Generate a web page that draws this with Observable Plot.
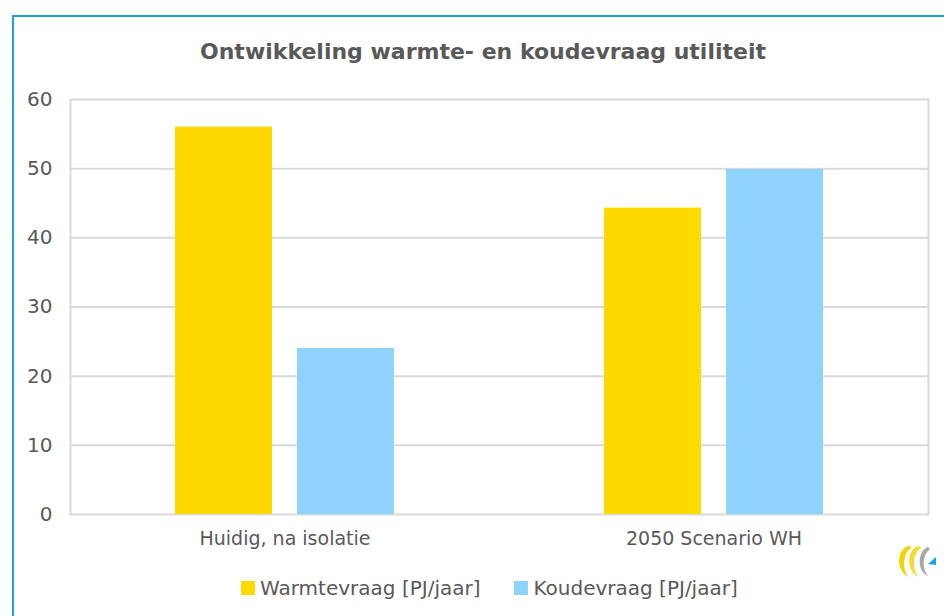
<!DOCTYPE html>
<html>
<head>
<meta charset="utf-8">
<script src="https://cdn.jsdelivr.net/npm/d3@7"></script>
<script src="https://cdn.jsdelivr.net/npm/@observablehq/plot@0.6"></script>
<style>
  html, body { margin: 0; padding: 0; background: #fff; }
  body { width: 944px; height: 616px; overflow: hidden; position: relative;
         font-family: "DejaVu Sans", sans-serif; color: #595959; }
  #box { position: absolute; left: 12px; top: 15px; width: 1000px; height: 700px;
         border-top: 2px solid #1ea0dc; border-left: 2px solid #1ea0dc; }
  #title { position: absolute; left: 22px; width: 922px; top: 39px; text-align: center;
           font-size: 22px; font-weight: bold; color: #595959; }
  #chart { position: absolute; left: 0; top: 80px; }
  #legend { position: absolute; left: 241px; top: 576px; display: flex; gap: 34px;
            font-size: 20px; color: #595959; }
  .item { display: flex; align-items: center; gap: 5px; }
  .sw { width: 14px; height: 14px; display: inline-block; }
  #logo { position: absolute; left: 895px; top: 543px; }
</style>
</head>
<body>
<div id="box"></div>
<div id="title">Ontwikkeling warmte- en koudevraag utiliteit</div>
<div id="chart"></div>
<div id="legend"></div>
<svg id="logo" width="42" height="36" viewBox="0 0 42 36">
  <path d="M13 3 C1 7 1 29 14 34 C7 27 7 10 17 4 Z" fill="#f2d500"/>
  <path d="M23 3 C11 7 11 29 24 34 C17 27 17 10 27 4 Z" fill="#f5dc3a"/>
  <path d="M33 4 C23 7 21 28 33 33 C27 26 27 12 35 6 Z" fill="#a8a8a8"/>
  <path d="M33 21 L41 14 L41 22 Z" fill="#1ea0dc"/>
</svg>
<script>
const categories = ["Huidig, na isolatie", "2050 Scenario WH"];
const seriesNames = ["Warmtevraag [PJ/jaar]", "Koudevraag [PJ/jaar]"];
const warmtevraag = [56, 44.3];
const koudevraag = [24, 49.9];
const seriesColors = ["#FFD900", "#8ED2FE"];
const yTicks = [0, 10, 20, 30, 40, 50, 60];

const rows = categories.flatMap((c, i) => [
  {category: c, series: seriesNames[0], value: warmtevraag[i]},
  {category: c, series: seriesNames[1], value: koudevraag[i]}
]);

const fontFamily = '"DejaVu Sans", sans-serif';
const gridColor = "#d9d9d9";

const chart = Plot.plot({
  width: 944,
  height: 480,
  marginTop: 19,
  marginBottom: 46,
  marginLeft: 70,
  marginRight: 16,
  style: {fontFamily, fontSize: "18px", color: "#595959", background: "transparent", overflow: "visible"},
  fx: {domain: categories, padding: 0, label: null, axis: null},
  x: {domain: seriesNames, paddingInner: 0.205, paddingOuter: 0.86, axis: null},
  y: {domain: [0, 60], label: null, axis: null},
  color: {domain: seriesNames, range: seriesColors},
  marks: [
    Plot.gridY(yTicks, {stroke: gridColor, strokeOpacity: 1, strokeWidth: 2}),
    Plot.frame({anchor: "left", facetAnchor: "left", stroke: gridColor, strokeWidth: 2}),
    Plot.frame({anchor: "right", facetAnchor: "right", stroke: gridColor, strokeWidth: 2}),
    Plot.barY(rows, {fx: "category", x: "series", y: "value", fill: "series"}),
    Plot.axisY(yTicks, {tickSize: 0, tickPadding: 18, label: null, fontSize: 20, fill: "#595959"}),
    Plot.axisFx({anchor: "bottom", tickSize: 0, tickPadding: 17, label: null, fontSize: 19, fill: "#595959"})
  ]
});
document.getElementById("chart").appendChild(chart);

const legend = document.getElementById("legend");
seriesNames.forEach((name, i) => {
  const item = document.createElement("div");
  item.className = "item";
  const sw = document.createElement("span");
  sw.className = "sw";
  sw.style.background = seriesColors[i];
  const label = document.createElement("span");
  label.textContent = name;
  item.appendChild(sw);
  item.appendChild(label);
  legend.appendChild(item);
});
</script>
</body>
</html>
